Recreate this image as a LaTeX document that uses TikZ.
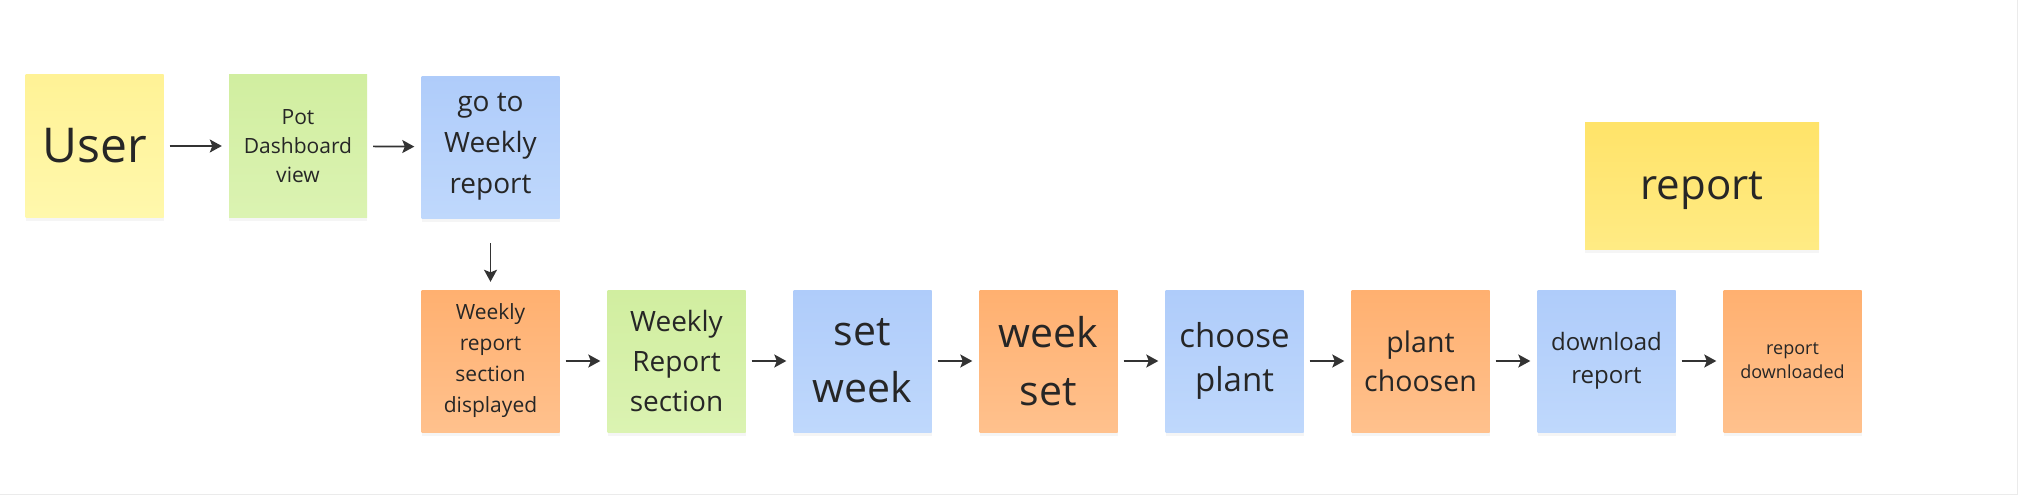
\documentclass[tikz,border=0pt]{standalone}
\usepackage{fontspec}
\setmainfont{Open Sans}
\usetikzlibrary{arrows.meta,shadows}
\definecolor{yelTop}{RGB}{255,242,150}
\definecolor{yelBot}{RGB}{255,248,172}
\definecolor{grnTop}{RGB}{209,238,160}
\definecolor{grnBot}{RGB}{219,243,178}
\definecolor{bluTop}{RGB}{175,204,250}
\definecolor{bluBot}{RGB}{191,216,252}
\definecolor{orgTop}{RGB}{255,176,112}
\definecolor{orgBot}{RGB}{255,193,141}
\definecolor{goldTop}{RGB}{255,227,105}
\definecolor{goldBot}{RGB}{255,235,132}
\begin{document}
\begin{tikzpicture}[x=1pt, y=-1pt,
  note/.style={minimum width=138pt, minimum height=142pt, inner sep=0pt,
    align=center, text=black!85,
    drop shadow={shadow xshift=0pt, shadow yshift=-4pt, opacity=0.08}},
  yelnote/.style={note, top color=yelTop, bottom color=yelBot},
  grnnote/.style={note, top color=grnTop, bottom color=grnBot},
  blunote/.style={note, top color=bluTop, bottom color=bluBot},
  orgnote/.style={note, top color=orgTop, bottom color=orgBot},
  flow/.style={-{Stealth[length=12pt,width=13pt,inset=2.5pt]}, line width=1.7pt,
    draw=black!80, shorten <=6pt, shorten >=7pt}]
  \fill[white] (0,0) rectangle (2018,495);
  \useasboundingbox (0,0) rectangle (2018,495);
  \draw[black!8, line width=1pt] (2017.5,0) -- (2017.5,494.5) -- (0,494.5);

  \node[yelnote, font=\fontsize{48}{67}\selectfont] (user) at (94.5,146) {User};
  \node[grnnote, font=\fontsize{21}{29}\selectfont] (potview) at (298,146) {Pot\\Dashboard\\view};
  \node[blunote, font=\fontsize{28}{41}\selectfont] (gotoweekly) at (490.5,147) {go to\\Weekly\\report};

  \node[orgnote, font=\fontsize{21}{31}\selectfont] (sectionshown) at (490.5,361) {Weekly\\report\\section\\displayed};
  \node[grnnote, font=\fontsize{28}{40}\selectfont] (weeklysection) at (676.5,361) {Weekly\\Report\\section};
  \node[blunote, font=\fontsize{41}{57}\selectfont] (setweek) at (862.5,361) {set\\week};
  \node[orgnote, font=\fontsize{41}{58}\selectfont] (weekset) at (1048.5,361) {week\\set};
  \node[blunote, font=\fontsize{33}{44}\selectfont] (chooseplant) at (1234.5,361) {choose\\plant};
  \node[orgnote, font=\fontsize{28.5}{39}\selectfont] (plantchosen) at (1420.5,361) {plant\\choosen};
  \node[blunote, font=\fontsize{24}{33}\selectfont] (download) at (1606.5,361) {download\\report};
  \node[orgnote, font=\fontsize{18}{24}\selectfont] (downloaded) at (1792.5,361) {report\\downloaded};

  \node[note, minimum width=234pt, minimum height=127pt, top color=goldTop, bottom color=goldBot,
    text depth=0pt, font=\fontsize{42}{58}\selectfont] (report) at (1702,185.5) {report};

  \draw[flow] (user) -- (potview);
  \draw[flow] (potview) -- (gotoweekly);
  \draw[flow, shorten <=25pt, shorten >=8pt] (gotoweekly) -- (sectionshown);
  \draw[flow] (sectionshown) -- (weeklysection);
  \draw[flow] (weeklysection) -- (setweek);
  \draw[flow] (setweek) -- (weekset);
  \draw[flow] (weekset) -- (chooseplant);
  \draw[flow] (chooseplant) -- (plantchosen);
  \draw[flow] (plantchosen) -- (download);
  \draw[flow] (download) -- (downloaded);
\end{tikzpicture}
\end{document}
